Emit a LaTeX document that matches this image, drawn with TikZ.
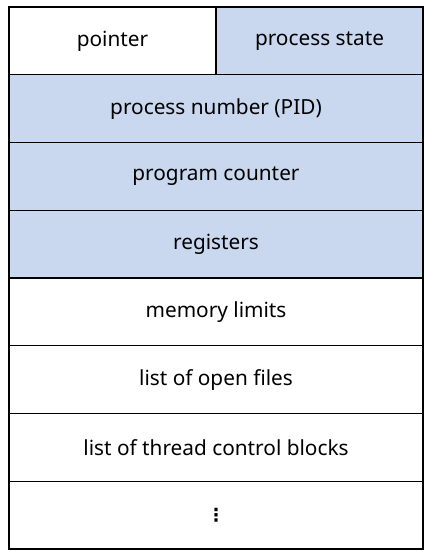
\documentclass[tikz,border=0pt]{standalone}
\usepackage{fontspec}
\setmainfont{Noto Sans}
\newfontfamily\symfont{DejaVu Sans}
\usetikzlibrary{positioning}
\definecolor{pcbblue}{RGB}{201,216,238}
\tikzset{
  cell/.style={draw, line width=1.4pt, minimum height=67.75pt, inner sep=0pt, outer sep=0pt, font=\fontsize{20.8}{24}\selectfont},
  full/.style={cell, minimum width=414pt},
  half/.style={cell, minimum width=207pt},
  shaded/.style={fill=pcbblue}
}
\begin{document}
\begin{tikzpicture}[x=1pt,y=-1pt]
    \useasboundingbox (0,0) rectangle (432,558);
    % --- first row, split in two
    \node[half, anchor=north west] (ptr) at (9,7) {pointer};
    \node[half, shaded, anchor=north west] (state) at (ptr.north east) {process state};
    % --- full rows
    \node[full, shaded, anchor=north west] (pid) at (ptr.south west) {process number (PID)};
    \node[full, shaded, below=0pt of pid] (pc) {program counter};
    \node[full, shaded, below=0pt of pc] (regs) {registers};
    \node[full, below=0pt of regs] (mem) {memory limits};
    \node[full, below=0pt of mem] (files) {list of open files};
    \node[full, below=0pt of files] (tcb) {list of thread control blocks};
    \node[full, below=0pt of tcb] (more) {\symfont\bfseries\fontsize{18}{20}\selectfont ⋮};
\end{tikzpicture}
\end{document}
